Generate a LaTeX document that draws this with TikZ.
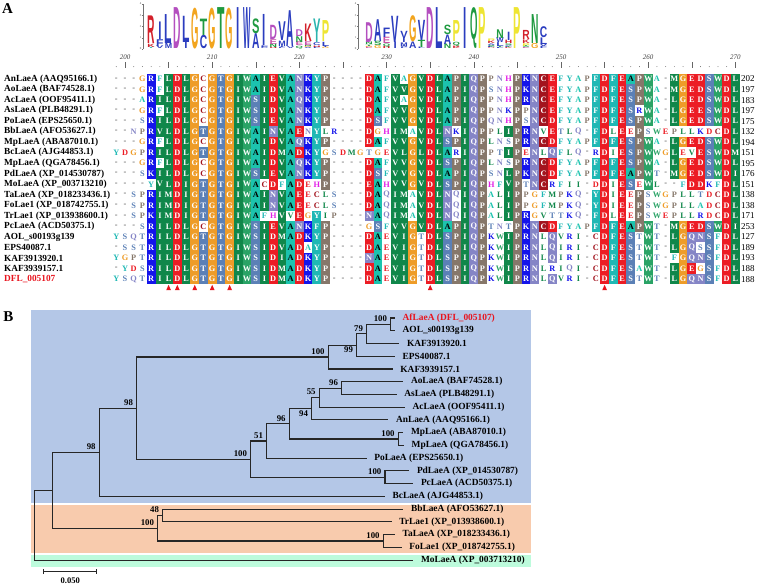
\documentclass[tikz,border=0pt]{standalone}
\usepackage{fontspec}
\setmainfont{Liberation Serif}
\newfontfamily\logofont{Liberation Sans}
\usepackage{graphicx}
\usepackage{tikz}
\usetikzlibrary{arrows.meta, positioning}
% alignment colours
\definecolor{resA}{HTML}{1CC3AE}
\definecolor{resC}{HTML}{A3141E}
\definecolor{resD}{HTML}{EC1C24}
\definecolor{resE}{HTML}{EC1C24}
\definecolor{resF}{HTML}{1FB8B4}
\definecolor{resG}{HTML}{EE9C28}
\definecolor{resH}{HTML}{E21FE6}
\definecolor{resI}{HTML}{10874A}
\definecolor{resK}{HTML}{1414EA}
\definecolor{resL}{HTML}{10874A}
\definecolor{resM}{HTML}{10874A}
\definecolor{resN}{HTML}{8585C6}
\definecolor{resP}{HTML}{86776A}
\definecolor{resQ}{HTML}{8585C6}
\definecolor{resR}{HTML}{1414EA}
\definecolor{resS}{HTML}{5B80B6}
\definecolor{resT}{HTML}{5B80B6}
\definecolor{resV}{HTML}{10874A}
\definecolor{resW}{HTML}{2AA366}
\definecolor{resY}{HTML}{1FB8B4}
% logo colours
\definecolor{logoA}{HTML}{2B3DBF}
\definecolor{logoC}{HTML}{2B3DBF}
\definecolor{logoD}{HTML}{B44FBF}
\definecolor{logoE}{HTML}{C84FA8}
\definecolor{logoF}{HTML}{2B3DBF}
\definecolor{logoG}{HTML}{F2A51F}
\definecolor{logoH}{HTML}{D3202A}
\definecolor{logoI}{HTML}{2B3DBF}
\definecolor{logoK}{HTML}{D3202A}
\definecolor{logoL}{HTML}{2B3DBF}
\definecolor{logoM}{HTML}{2B3DBF}
\definecolor{logoN}{HTML}{1F9A40}
\definecolor{logoP}{HTML}{EEE533}
\definecolor{logoQ}{HTML}{1F9A40}
\definecolor{logoR}{HTML}{D3202A}
\definecolor{logoS}{HTML}{1F9A40}
\definecolor{logoT}{HTML}{1F9A40}
\definecolor{logoV}{HTML}{2B3DBF}
\definecolor{logoW}{HTML}{2B3DBF}
\definecolor{logoY}{HTML}{2BB4AE}
% tree colours
\definecolor{cladeblue}{HTML}{B4C7E7}
\definecolor{cladeorange}{HTML}{F8CBAD}
\definecolor{cladegreen}{HTML}{BDFBDC}
\definecolor{branchgrey}{HTML}{262626}
\definecolor{hitred}{HTML}{E8141E}

% residue counting per column
\newcount\colidx
\newcount\gcount
\def\aalist{A,C,D,E,F,G,H,I,K,L,M,N,P,Q,R,S,T,V,W,Y}
\def\cnt#1#2{\ifcsname n-#1-#2\endcsname\csname n-#1-#2\endcsname\else0\fi}
\def\setgrp#1#2#3{\expandafter\def\csname grp-#1\endcsname{#2}\expandafter\def\csname thr-#1\endcsname{#3}}
\setgrp A{ASN}{10}\setgrp C{C}{10}\setgrp D{DE}{10}\setgrp E{DE}{10}
\setgrp F{FY}{12}\setgrp G{G}{10}\setgrp H{H}{10}\setgrp I{ILMV}{10}
\setgrp K{KR}{10}\setgrp L{ILMV}{10}\setgrp M{ILMV}{10}\setgrp N{DENQAS}{10}
\setgrp P{P}{10}\setgrp Q{DENQ}{10}\setgrp R{KR}{10}\setgrp S{ASNT}{10}
\setgrp T{ST}{10}\setgrp V{ILMV}{10}\setgrp W{W}{10}\setgrp Y{FY}{12}
\def\groupcount#1#2{\gcount=0 \def\gcol{#1}\groupcounti#2\relax}
\def\groupcounti#1{\ifx\relax#1\else\advance\gcount by \cnt{\gcol}{#1}\relax\expandafter\groupcounti\fi}
\def\countseq#1{\ifx\relax#1\let\nextres\relax\else
  \global\advance\colidx by 1
  \if#1-\else
    \edef\newv{\the\numexpr\cnt{\the\colidx}{#1}+1\relax}%
    \expandafter\xdef\csname n-\the\colidx-#1\endcsname{\newv}%
  \fi
  \let\nextres\countseq\fi\nextres}
% one alignment cell
\def\drawres#1{%
  \global\advance\colidx by 1
  \pgfmathsetmacro\cx{125+(\the\colidx-2)*8.72}%
  \if#1-\def\resmode{0}\else
    \edef\tmp{\noexpand\groupcount{\the\colidx}{\csname grp-#1\endcsname}}\tmp
    \ifnum\gcount<\csname thr-#1\endcsname\relax\def\resmode{1}\else\def\resmode{2}\fi
  \fi
  \edef\btc{\if A#1black\else white\fi}%
  \ifcase\resmode\relax
    \node[gapch] (s\ri-\the\colidx) at (\cx,\ry) {-};%
  \or
    \node[res, text=res#1] (s\ri-\the\colidx) at (\cx,\ry) {#1};%
  \or
    \fill[res#1] (\cx-4.36,\ry-5.27) rectangle (\cx+4.36,\ry+5.27);%
    \node[res, text=\btc] (s\ri-\the\colidx) at (\cx,\ry) {#1};%
  \fi}
\def\drawseq#1{\ifx\relax#1\let\nextres\relax\else\def\curres{#1}\let\nextres\drawstep\fi\nextres}
\def\drawstep{\expandafter\drawres\expandafter{\curres}\drawseq}

\def\alnrows{AnLaeA (AAQ95166.1)/---GRFLDLGCGTGIWAIEVANKYP----DAFVAGVDLAPIQPPNHPKNCEFYAPFDFEAPWA-MGEDSWDL/202/black,
AoLaeA (BAF74528.1)/---GRFLDLGCGTGIWAIDVANKYP----DAFVVGVDLAPIQPSNHPKNCEFYAPFDFESPWA-MGEDSWDL/197/black,
AcLaeA (OOF95411.1)/---ARILDLGCGTGIWSIDVAQKYP----DAFVAGVDLAPIQPPNHPRNCEFYAPFDFESPWA-LGEDSWDL/183/black,
AsLaeA (PLB48291.1)/---GRFLDLGCGTGIWSIDVANKYP----DAFVVGVDLAPIQPPNKPPNCEFYAPFDFESRWA-LGEESWDL/197/black,
PoLaeA (EPS25650.1)/---SRILDLGCGTGIWSIEVANKYP----DSFVVGVDLAPIQPQNHPSNCDFYAPFDFESPWA-LGEDSWDL/175/black,
BbLaeA (AFO53627.1)/--NPRVLDLGTGTGIWAINVAENYLR---DGHIMAVDLNKIQPPLIPRNVETLQ-FDLEEPSWEPLLKDCDL/132/black,
MpLaeA (ABA87010.1)/---GRFLDLGCGTGIWAIDVAQKYP----DAFVVGVDLSPIQPLNSPRNCDFYAPFDFESPWA-LGEDSWDL/194/black,
BcLaeA (AJG44853.1)/YDGPRILDLGTGTGIWAIDMADKYGSDMGTGEVLGLDLARIQPPTIPENLQFLQ-RDIESPWWGLEVESWDM/151/black,
MpLaeA (QGA78456.1)/---GRFLDLGCGTGIWAIDVAQKYP----DAFVVGVDLSPIQPLNSPRNCDFYAPFDFESPWA-LGEDSWDL/195/black,
PdLaeA (XP\_014530787)/---SKILDLGCGTGIWSIEVANKYP----DSFVVGVDLAPIQPSNLPKNCDFYAPFDFEAPWT-MGEDSWDI/176/black,
MoLaeA (XP\_003713210)/----YVLDIGTGTGIWACDFADEHP----EAHVVGVDLSPIQPHFVPTNCRFII-DDIESEWL--FDDKFDL/151/black,
TaLaeA (XP\_018233436.1)/--SPRIMDIGTGTGIWAINVAEECLS---DAQIMAVDLNQIQPALIPPGFMPKQ-YDIEEPSWGPLLTDCDL/138/black,
FoLae1 (XP\_018742755.1)/--SPRIMDIGTGTGIWAINVAEECLS---DAQIMAVDLNQIQPALIPPGFMPKQ-YDIEEPSWGPLLADCDL/138/black,
TrLae1 (XP\_013938600.1)/--SPKIMDIGTGTGIWAFHVVEGYIP---NAQIMAVDLNQIQPALIPRGVTTKQ-FDLEEPSWEPLLRDCDL/171/black,
PcLaeA (ACD50375.1)/---SRILDLGCGTGIWSIEVANKFP----GSFVVGVDLAPIQPTNTPKNCDFYAPFDFEAPWT-MGEDSWDI/253/black,
AOL\_s00193g139/YSQTRILDLGTGTGIWSIDMADKYP----DAEVIGTDLSPIQPKWIPRNLQVRI-CDFESTWT-LGQNSFDL/127/black,
EPS40087.1/-SSTRILDLGTGTGIWSIDVADAYP----DAEVIGTDLSPIQPKWIPRNLQIRI-CDFESTWT-LGQSSFDL/189/black,
KAF3913920.1/YGPTRILDLGTGTGIWSIDIADKYP----NAEVIGTDLSPIQPKWIPRNLQIRI-CDFESTWT-FGQNSFDL/193/black,
KAF3939157.1/-YDSRILDLGTGTGIWSIDMADKYP----DAEVIGTDLSPIQPKWIPRNLRIQI-CDFESAWT-LGEGSFDL/188/black,
DFL\_005107/YSQTRILDLGTGTGIWSIDMADKYP----DAEVIGTDLSPIQPKWIPRNLQVRI-CDFESTWT-LGQNSFDL/188/hitred}

\begin{document}
\begin{tikzpicture}[x=1pt, y=-1pt,
    rowlab/.style={anchor=west, inner sep=0pt, font=\fontsize{9.3}{10}\selectfont\bfseries},
    endnum/.style={anchor=west, inner sep=0pt, font=\fontsize{9}{10}\selectfont},
    res/.style={inner sep=0pt, font=\fontsize{8.3}{9}\selectfont\bfseries},
    gapch/.style={inner sep=0pt, font=\fontsize{8.3}{9}\selectfont, text=black!70},
    rulnum/.style={inner sep=0pt, font=\fontsize{7}{8}\selectfont\itshape, text=black!75},
    logoch/.style={anchor=south, inner sep=0pt, font=\logofont\bfseries},
    axlab/.style={anchor=east, inner sep=0.3pt, font=\fontsize{3}{3}\selectfont, text=black!70},
    site/.style={fill=hitred, draw=none},
    panel/.style={inner sep=0pt, font=\fontsize{15}{15}\selectfont\bfseries},
    branch/.style={draw=branchgrey, line width=1.1pt},
    leaf/.style={anchor=west, inner ysep=0pt, inner xsep=7.5pt, font=\fontsize{9.4}{10}\selectfont\bfseries},
    bs/.style={anchor=south east, inner sep=0.5pt, xshift=-3pt, yshift=2pt, font=\fontsize{8.8}{9}\selectfont\bfseries},
    bsb/.style={bs, anchor=north east, yshift=-3pt},
    sblab/.style={inner sep=0pt, font=\fontsize{8.6}{9}\selectfont\bfseries}
]
    \useasboundingbox (0,0) rectangle (760,585);

    % panel A: alignment
    \node[panel] (panA) at (7.5,9) {A};
    \foreach \nm/\sq/\en/\lc in \alnrows {\global\colidx=0 \expandafter\countseq\sq\relax}

    % ruler
    \foreach \cc in {199,...,270} {
        \pgfmathsetmacro\rx{125+(\cc-200)*8.72}
        \pgfmathtruncatemacro\mf{mod(\cc,5)}
        \ifnum\mf=0 \draw[black!60, line width=0.4pt] (\rx,62.5) -- (\rx,68);
        \else \fill[black!60] (\rx,66.6) circle (0.45); \fi
    }
    \foreach \cc in {200,210,...,270}
        \node[rulnum] (rul\cc) at ({125+(\cc-200)*8.72},57) {\cc};

    % rows
    \foreach \nm/\sq/\en/\lc [count=\ri] in \alnrows {
        \pgfmathsetmacro\ry{79+(\ri-1)*10.53}
        \node[rowlab, text=\lc] (lab\ri) at (4,\ry) {\nm};
        \global\colidx=0
        \expandafter\drawseq\sq\relax
        \node[endnum] (end\ri) at (741,\ry) {\en};
    }

    % conserved sites
    \foreach \cc in {205,206,208,210,212,235,255} {
        \pgfmathsetmacro\tx{125+(\cc-200)*8.72}
        \fill[site] (\tx,284.8) -- (\tx-2.4,290.2) -- (\tx+2.4,290.2) -- cycle;
    }

    % sequence logo
    \foreach \ca/\cb/\ax in {203/223/143, 228/248/358} {
        \draw[black!55, line width=0.3pt] (\ax,49) -- (\ax,4);
        \foreach \bit in {0,...,4} {
            \draw[black!55, line width=0.3pt] (\ax-1.2,{49-\bit*11.25}) -- (\ax,{49-\bit*11.25});
            \node[axlab] (ax\ca-\bit) at (\ax-1.2,{49-\bit*11.25}) {\bit};
        }
        \foreach \cc in {\ca,...,\cb} {
            \pgfmathtruncatemacro\ci{\cc-198}
            \pgfmathsetmacro\lx{125+(\cc-200)*8.72}
            \gdef\Hs{0}
            \foreach \lt in \aalist {
                \edef\kk{\cnt{\ci}{\lt}}
                \ifnum\kk>0 \pgfmathsetmacro\tmpv{\Hs-(\kk/20)*ln(\kk/20)*1.442695}\xdef\Hs{\tmpv}\fi
            }
            \pgfmathsetmacro\info{max(0,4.321928-\Hs-0.685)}
            \gdef\yb{49}
            \foreach \nn in {1,...,20} {
                \foreach \lt in \aalist {
                    \edef\kk{\cnt{\ci}{\lt}}
                    \ifnum\kk=\nn\relax
                        \pgfmathsetmacro\hh{\nn/20*\info*11.25}
                        \ifdim\hh pt>0.3pt
                            \node[logoch] (lg\cc\lt) at (\lx,\yb)
                                {\resizebox*{\if I\lt 3.2pt\else 7.4pt\fi}{\hh pt}{\color{logo\lt}\lt}};
                            \pgfmathsetmacro\tmpv{\yb-\hh}\xdef\yb{\tmpv}
                        \fi
                    \fi
                }
            }
        }
    }

    % panel B: tree
    \node[panel] (panB) at (8.5,316.5) {B};
    \fill[cladeblue] (31,310) rectangle (531,503.3);
    \fill[cladeorange] (31,504.5) rectangle (531,553.3);
    \fill[cladegreen] (31,555) rectangle (531,567.3);

    % internal nodes
    \coordinate (nDA) at (390.7,324.4);
    \coordinate (n79) at (366.7,333.9);
    \coordinate (n99) at (356.7,345.1);
    \coordinate (nA100) at (328.3,357.0);
    \coordinate (n96a) at (341.7,388.1);
    \coordinate (n55) at (319.3,397.6);
    \coordinate (n94) at (311.7,408.8);
    \coordinate (nMp) at (398.3,439.0);
    \coordinate (n96b) at (289.3,423.9);
    \coordinate (n51) at (266.7,441.0);
    \coordinate (nPdPc) at (385,477.3);
    \coordinate (nB100) at (250.7,459.1);
    \coordinate (n98a) at (136.7,408.1);
    \coordinate (n98b) at (99.3,452.2);
    \coordinate (n48) at (162.7,515.5);
    \coordinate (nTaFo) at (383.3,541.0);
    \coordinate (nE100) at (157.7,528.2);
    \coordinate (nIn) at (52.3,490.2);
    \coordinate (nRoot) at (34.3,525.1);

    % leaves
    \node[leaf, text=hitred] (tDFL) at (395,318.0) {AfLaeA (DFL\_005107)};
    \node[leaf] (tAOL) at (395,330.7) {AOL\_s00193g139};
    \node[leaf] (tK1) at (399.3,343.5) {KAF3913920.1};
    \node[leaf] (tEPS) at (395,356.2) {EPS40087.1};
    \node[leaf] (tK2) at (392.7,369.0) {KAF3939157.1};
    \node[leaf] (tAo) at (403.3,381.7) {AoLaeA (BAF74528.1)};
    \node[leaf] (tAs) at (396.7,394.4) {AsLaeA (PLB48291.1)};
    \node[leaf] (tAc) at (405,407.2) {AcLaeA (OOF95411.1)};
    \node[leaf] (tAn) at (388.3,419.9) {AnLaeA (AAQ95166.1)};
    \node[leaf] (tMp1) at (403.3,432.7) {MpLaeA (ABA87010.1)};
    \node[leaf] (tMp2) at (404,445.4) {MpLaeA (QGA78456.1)};
    \node[leaf] (tPo) at (366.7,458.1) {PoLaeA (EPS25650.1)};
    \node[leaf] (tPd) at (409.3,470.9) {PdLaeA (XP\_014530787)};
    \node[leaf] (tPc) at (413.3,483.6) {PcLaeA (ACD50375.1)};
    \node[leaf] (tBc) at (385,496.4) {BcLaeA (AJG44853.1)};
    \node[leaf] (tBb) at (403.3,509.1) {BbLaeA (AFO53627.1)};
    \node[leaf] (tTr) at (391.7,521.8) {TrLae1 (XP\_013938600.1)};
    \node[leaf] (tTa) at (395,534.6) {TaLaeA (XP\_018233436.1)};
    \node[leaf] (tFo) at (401.7,547.3) {FoLae1 (XP\_018742755.1)};
    \node[leaf] (tMo) at (413.3,560.1) {MoLaeA (XP\_003713210)};

    % branches
    \foreach \p/\c in {nDA/tDFL.west, nDA/tAOL.west, n79/nDA, n79/tK1.west,
            n99/n79, n99/tEPS.west, nA100/n99, nA100/tK2.west,
            n96a/tAo.west, n96a/tAs.west, n55/n96a, n55/tAc.west,
            n94/n55, n94/tAn.west, nMp/tMp1.west, nMp/tMp2.west,
            n96b/n94, n96b/nMp, n51/n96b, n51/tPo.west,
            nPdPc/tPd.west, nPdPc/tPc.west, nB100/n51, nB100/nPdPc,
            n98a/nA100, n98a/nB100, n98b/n98a, n98b/tBc.west,
            n48/tBb.west, n48/tTr.west, nTaFo/tTa.west, nTaFo/tFo.west,
            nE100/n48, nE100/nTaFo, nIn/n98b, nIn/nE100,
            nRoot/nIn, nRoot/tMo.west}
        \draw[branch] (\p) |- (\c);

    % bootstrap values
    \node[bs] (bDA) at (nDA) {100};
    \node[bs] (b79) at (n79) {79};
    \node[bsb] (b99) at (n99) {99};
    \node[bs] (bA100) at (nA100) {100};
    \node[bs] (b96a) at (n96a) {96};
    \node[bs] (b55) at (n55) {55};
    \node[bsb] (b94) at (n94) {94};
    \node[bs] (bMp) at (nMp) {100};
    \node[bs] (b96b) at (n96b) {96};
    \node[bs] (b51) at (n51) {51};
    \node[bs] (bPdPc) at (nPdPc) {100};
    \node[bs] (bB100) at (nB100) {100};
    \node[bs] (b98a) at (n98a) {98};
    \node[bs] (b98b) at (n98b) {98};
    \node[bs] (b48) at (n48) {48};
    \node[bs] (bTaFo) at (nTaFo) {100};
    \node[bs] (bE100) at (nE100) {100};

    % scale bar
    \coordinate (sbL) at (43.3,571.7);
    \coordinate (sbR) at (97.3,571.7);
    \draw[branch, line width=0.9pt, {Bar[width=5pt]}-{Bar[width=5pt]}] (sbL) -- (sbR);
    \node[sblab] (sbtxt) at (70.3,580.3) {0.050};
\end{tikzpicture}
\end{document}
